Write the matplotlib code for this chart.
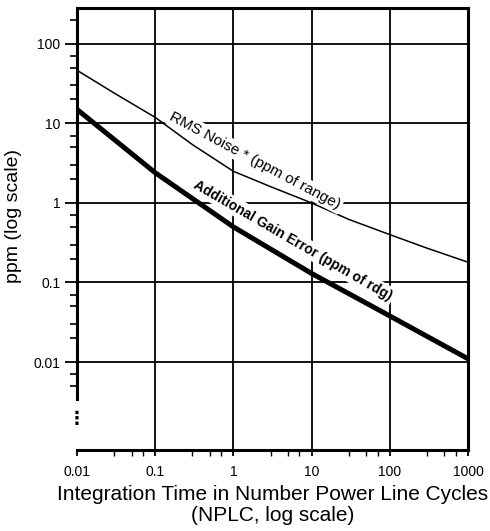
import numpy as np
import matplotlib
matplotlib.use("Agg")
import matplotlib.pyplot as plt
from matplotlib.ticker import FixedLocator, FixedFormatter, NullFormatter

plt.rcParams['font.family'] = ['Liberation Sans', 'DejaVu Sans']

# values (NPLC vs ppm)
nplc = [0.01, 0.03, 0.1, 0.3, 1, 3, 10, 30, 100, 300, 1000]
rms_noise = [46.5, 24, 11.9, 5.4, 2.5, 1.6, 1.0, 0.62, 0.40, 0.27, 0.18]
gain_nplc = [0.01, 0.1, 1, 10, 100, 1000]
gain_error = [15, 2.4, 0.50, 0.13, 0.038, 0.011]

xticks = [0.01, 0.1, 1, 10, 100, 1000]
xtick_labels = ["0.01", "0.1", "1", "10", "100", "1000"]
yticks = [0.01, 0.1, 1, 10, 100]
ytick_labels = ["0.01", "0.1", "1", "10", "100"]

fig = plt.figure(figsize=(4.9, 5.31), dpi=100)
ax = fig.add_axes([0.157, 0.153, 0.798, 0.832])

ax.set_xscale("log")
ax.set_yscale("log")
ax.set_xlim(0.01, 1000)
ax.set_ylim(7.9e-4, 282)

# grid
for x in xticks[1:-1]:
    ax.axvline(x, color="black", lw=1.3, zorder=1)
for y in yticks:
    ax.axhline(y, color="black", lw=1.3, zorder=1)

ax.plot(nplc, rms_noise, color="black", lw=1.1, zorder=3)
ax.plot(gain_nplc, gain_error, color="black", lw=3.6, zorder=3,
        solid_capstyle="butt")

ax.text(1.9, 3.4, "RMS Noise * (ppm of range)", rotation=-28,
        rotation_mode="anchor", ha="center", va="center", fontsize=11,
        bbox=dict(facecolor="white", edgecolor="none", pad=1.5), zorder=4)
ax.text(5.8, 0.34, "Additional Gain Error (ppm of rdg)", rotation=-30,
        rotation_mode="anchor", ha="center", va="center", fontsize=10,
        fontweight="bold",
        bbox=dict(facecolor="white", edgecolor="none", pad=1.5), zorder=4)

ax.xaxis.set_major_locator(FixedLocator(xticks))
ax.xaxis.set_major_formatter(FixedFormatter(xtick_labels))
ax.yaxis.set_major_locator(FixedLocator(yticks))
ax.yaxis.set_major_formatter(FixedFormatter(ytick_labels))
ax.xaxis.set_minor_locator(FixedLocator(
    [m * d for d in [0.01, 0.1, 1, 10, 100] for m in (3, 5, 7)]))
ax.yaxis.set_minor_locator(FixedLocator(
    [m * d for d in [0.001, 0.01, 0.1, 1, 10, 100] for m in (2, 3, 5, 7)
     if 0.0035 < m * d < 282]))
ax.xaxis.set_minor_formatter(NullFormatter())
ax.yaxis.set_minor_formatter(NullFormatter())

ax.tick_params(axis="y", which="major", length=9, width=1.3, pad=3, labelsize=10)
ax.tick_params(axis="y", which="minor", length=5, width=1.2)
ax.tick_params(axis="x", which="major", length=4, width=1.3, pad=7, labelsize=10)
ax.tick_params(axis="x", which="minor", length=4, width=1.0)

for s in ax.spines.values():
    s.set_linewidth(2.2)
ax.spines["left"].set_bounds(0.0034, 282)

# break marks on the y axis
ax.text(0.01, 0.0019, "\u22ee", ha="center", va="center", fontsize=13,
        family="DejaVu Sans", fontweight="bold")

ax.set_xlabel("Integration Time in Number Power Line Cycles\n(NPLC, log scale)",
              fontsize=15, linespacing=1.15)
ax.set_ylabel("ppm (log scale)", fontsize=14)
ax.yaxis.set_label_coords(-0.14, 0.53)
ax.xaxis.set_label_coords(0.5, -0.08)
ax.xaxis.label.set_va("top")

fig.savefig("out.png", dpi=100)
